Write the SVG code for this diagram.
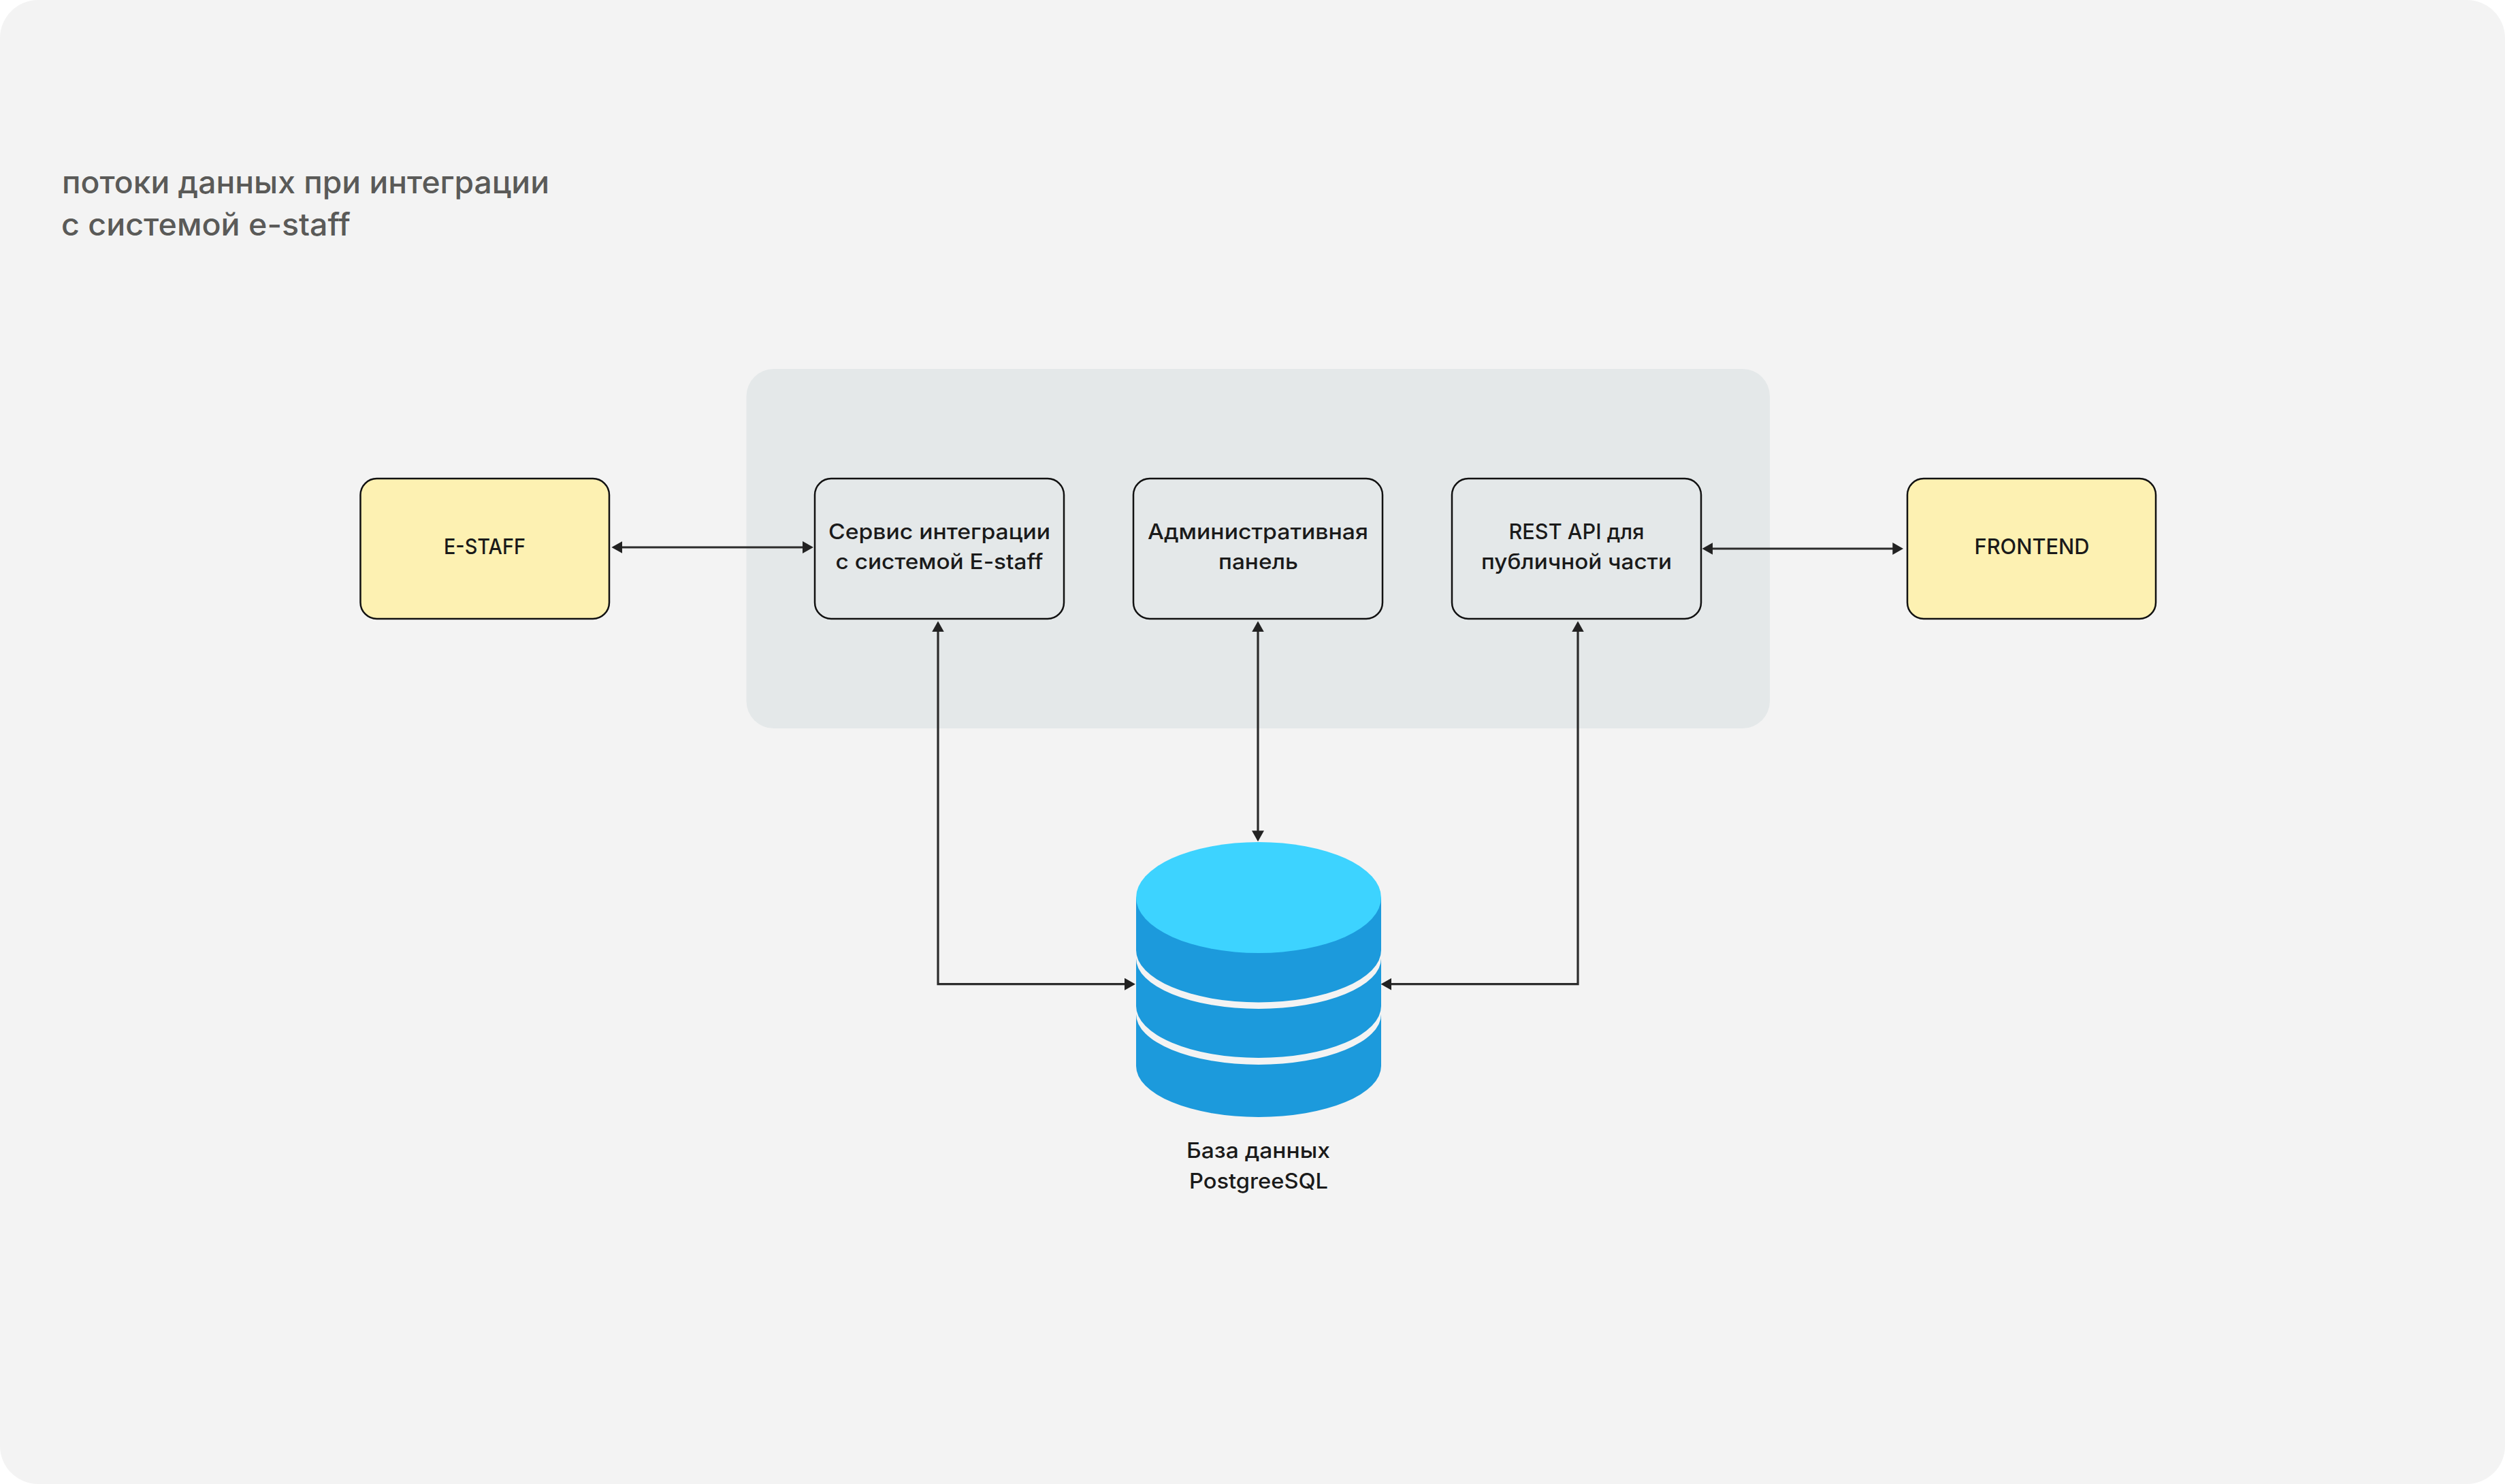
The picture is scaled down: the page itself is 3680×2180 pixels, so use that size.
<svg xmlns="http://www.w3.org/2000/svg" width="3680" height="2180" viewBox="0 0 3680 2180">
<style>
text{font-family:"Inter","Noto Sans","Liberation Sans",sans-serif;font-weight:500;text-anchor:middle;fill:#1a1a1a;font-size:31px}
.title{font-size:45px;fill:#5a5a58;text-anchor:start}
.box{stroke:#111;stroke-width:2.5}
.ext{fill:#fdf1b2}
.int{fill:#e4e8e9}
.link{fill:none;stroke:#2b2b2b;stroke-width:3.2;marker-start:url(#arrow);marker-end:url(#arrow)}
.band{fill:#1c9adc}
</style>
<defs>
<marker id="arrow" markerUnits="userSpaceOnUse" markerWidth="16" markerHeight="18" viewBox="0 0 15 17" refX="12" refY="8.5" orient="auto-start-reverse"><path d="M0 0L15 8.5L0 17Z" fill="#222"/></marker>
</defs>
<rect width="3680" height="2180" fill="#fff"/>
<rect id="background" width="3680" height="2180" rx="56" fill="#f3f3f3"/>
<g id="title">
<text class="title" x="91" y="284" textLength="716" lengthAdjust="spacingAndGlyphs">потоки данных при интеграции</text>
<text class="title" x="90" y="346" textLength="425" lengthAdjust="spacingAndGlyphs">с системой e-staff</text>
</g>
<rect id="backend-panel" x="1096.5" y="542" width="1503.5" height="528" rx="40" fill="#e4e8e9"/>
<g id="connectors">
<path class="link" d="M901.6 804H1191.7"/>
<path class="link" d="M2503.7 806H2793"/>
<path class="link" d="M1378 915.7V1445.7H1664.7"/>
<path class="link" d="M1848 915.7V1233"/>
<path class="link" d="M2318 915.7V1445.7H2031.7"/>
</g>
<g id="e-staff">
<rect class="box ext" x="529.5" y="703" width="365.5" height="206" rx="24"/>
<text x="712" y="814" textLength="120" lengthAdjust="spacingAndGlyphs">E-STAFF</text>
</g>
<g id="integration-service">
<rect class="box int" x="1197" y="703" width="366" height="206" rx="24"/>
<text x="1380" y="792" textLength="326" lengthAdjust="spacingAndGlyphs">Сервис интеграции</text>
<text x="1380" y="836" textLength="305" lengthAdjust="spacingAndGlyphs">с системой E-staff</text>
</g>
<g id="admin-panel">
<rect class="box int" x="1665" y="703" width="366" height="206" rx="24"/>
<text x="1848" y="792" textLength="324" lengthAdjust="spacingAndGlyphs">Административная</text>
<text x="1848.5" y="836" textLength="117" lengthAdjust="spacingAndGlyphs">панель</text>
</g>
<g id="rest-api">
<rect class="box int" x="2133" y="703" width="366" height="206" rx="24"/>
<text x="2316" y="792" textLength="199" lengthAdjust="spacingAndGlyphs">REST API для</text>
<text x="2316" y="836" textLength="280" lengthAdjust="spacingAndGlyphs">публичной части</text>
</g>
<g id="frontend">
<rect class="box ext" x="2802" y="703" width="365" height="206" rx="24"/>
<text x="2985" y="814" textLength="169" lengthAdjust="spacingAndGlyphs">FRONTEND</text>
</g>
<g id="database">
<path class="band" d="M1669 1318V1396A180 76.5 0 0 0 2029 1396V1318Z"/>
<path class="band" d="M1669 1408A180 74 0 0 0 2029 1408V1478A180 76 0 0 1 1669 1478Z"/>
<path class="band" d="M1669 1490A180 74 0 0 0 2029 1490V1566A180 75 0 0 1 1669 1566Z"/>
<ellipse cx="1849" cy="1318.5" rx="180" ry="81.5" fill="#3dd3ff"/>
<text x="1848.5" y="1701" textLength="211" lengthAdjust="spacingAndGlyphs">База данных</text>
<text x="1849" y="1746" textLength="204" lengthAdjust="spacingAndGlyphs">PostgreeSQL</text>
</g>
</svg>
